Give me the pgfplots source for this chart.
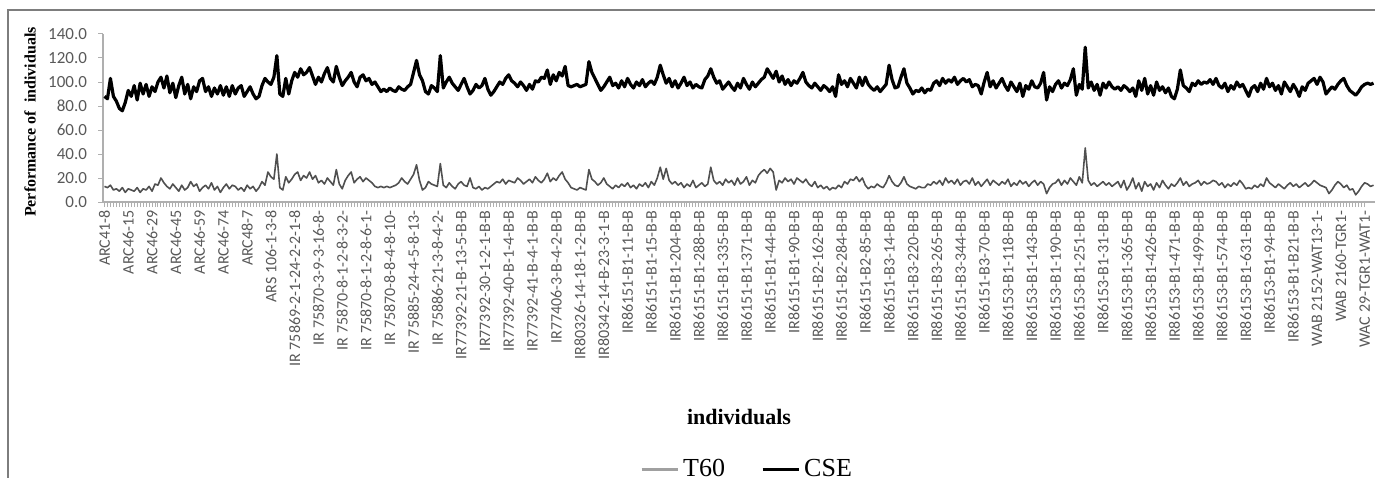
\documentclass[border=0pt]{standalone}
\usepackage{pgfplots}
\pgfplotsset{compat=1.18}
\usepackage{pgfplotstable}
\usepackage{fontspec}
\setmainfont{Liberation Serif}
\newfontfamily\carlito{Carlito}
\definecolor{tickgray}{RGB}{89,89,89}
\definecolor{axgray}{RGB}{175,175,175}
\definecolor{tsixty}{RGB}{80,80,80}
\definecolor{tlegend}{RGB}{160,160,160}
\definecolor{framegray}{RGB}{125,125,125}

\pgfplotstableread[row sep=\\]{
t c\\
13 88\\ 12 86\\ 14 103\\ 10 88\\ 11 84\\ 9 78\\ 12 76\\ 8 83\\ 11 93\\ 10 88\\
9 97\\ 12 85\\ 8 99\\ 11 90\\ 10 98\\ 13 88\\ 9 96\\ 15 92\\ 14 100\\ 20 104\\
16 95\\ 13 105\\ 11 91\\ 15 99\\ 12 87\\ 9 97\\ 14 104\\ 10 90\\ 12 98\\ 17 86\\
13 96\\ 15 92\\ 9 101\\ 12 103\\ 14 92\\ 11 96\\ 16 88\\ 10 95\\ 13 90\\ 8 97\\
12 89\\ 15 96\\ 11 88\\ 14 97\\ 13 90\\ 10 95\\ 12 97\\ 9 88\\ 14 92\\ 11 96\\
13 90\\ 9 86\\ 12 88\\ 17 97\\ 14 103\\ 25 100\\ 21 98\\ 19 104\\ 40 122\\ 12 90\\
10 88\\ 21 103\\ 16 90\\ 19 101\\ 23 108\\ 25 104\\ 18 111\\ 22 106\\ 20 108\\ 25 112\\
19 105\\ 22 98\\ 16 104\\ 18 100\\ 15 107\\ 20 112\\ 17 103\\ 14 100\\ 27 113\\ 15 104\\
11 97\\ 18 101\\ 22 104\\ 25 108\\ 16 100\\ 19 96\\ 21 104\\ 17 106\\ 20 101\\ 18 103\\
16 98\\ 13 100\\ 12 96\\ 13 92\\ 12 94\\ 13 92\\ 12 95\\ 13 93\\ 14 92\\ 16 96\\
20 94\\ 17 93\\ 15 96\\ 19 98\\ 23 108\\ 31 118\\ 18 106\\ 10 101\\ 12 92\\ 17 90\\
15 97\\ 14 95\\ 13 92\\ 32 122\\ 14 95\\ 12 100\\ 16 104\\ 13 99\\ 11 96\\ 15 93\\
17 98\\ 14 103\\ 13 96\\ 20 90\\ 12 93\\ 11 98\\ 13 95\\ 10 97\\ 12 103\\ 11 94\\
13 89\\ 15 92\\ 17 96\\ 16 100\\ 19 98\\ 15 103\\ 18 106\\ 17 101\\ 16 99\\ 20 96\\
18 100\\ 15 97\\ 17 93\\ 19 98\\ 16 94\\ 21 101\\ 18 100\\ 16 104\\ 19 103\\ 24 110\\
17 98\\ 20 106\\ 18 101\\ 22 108\\ 25 105\\ 19 113\\ 16 97\\ 12 96\\ 11 97\\ 10 98\\
12 96\\ 11 97\\ 10 98\\ 27 117\\ 19 108\\ 17 103\\ 14 98\\ 16 93\\ 20 96\\ 15 100\\
13 104\\ 11 97\\ 14 99\\ 12 95\\ 15 101\\ 13 96\\ 16 103\\ 12 98\\ 14 95\\ 11 100\\
15 97\\ 13 102\\ 16 96\\ 12 99\\ 17 101\\ 14 98\\ 20 104\\ 29 114\\ 19 106\\ 28 99\\
18 103\\ 15 96\\ 17 101\\ 14 95\\ 16 99\\ 12 104\\ 15 97\\ 13 100\\ 18 95\\ 12 98\\
14 96\\ 16 95\\ 13 102\\ 15 105\\ 29 111\\ 18 104\\ 15 99\\ 17 101\\ 14 94\\ 19 97\\
16 100\\ 18 96\\ 14 93\\ 20 99\\ 15 95\\ 17 103\\ 21 98\\ 14 94\\ 18 100\\ 16 96\\
22 99\\ 25 102\\ 27 104\\ 24 111\\ 28 107\\ 25 103\\ 10 109\\ 18 100\\ 16 105\\ 20 98\\
17 102\\ 19 97\\ 15 101\\ 20 99\\ 18 103\\ 16 108\\ 19 100\\ 15 97\\ 13 95\\ 17 99\\
12 96\\ 14 93\\ 11 97\\ 13 95\\ 10 92\\ 12 96\\ 11 88\\ 14 106\\ 12 98\\ 17 101\\
15 96\\ 19 103\\ 18 99\\ 21 95\\ 17 104\\ 20 97\\ 14 104\\ 11 98\\ 13 95\\ 12 93\\
15 96\\ 13 92\\ 12 95\\ 16 98\\ 22 114\\ 17 102\\ 14 95\\ 13 96\\ 16 104\\ 21 111\\
15 99\\ 13 95\\ 12 90\\ 11 93\\ 13 92\\ 12 95\\ 12 91\\ 15 94\\ 14 93\\ 17 99\\
15 101\\ 18 97\\ 14 103\\ 20 99\\ 16 102\\ 18 100\\ 15 104\\ 19 98\\ 14 101\\ 17 103\\
18 100\\ 15 102\\ 20 96\\ 14 98\\ 17 97\\ 13 90\\ 16 100\\ 19 108\\ 14 96\\ 18 101\\
16 95\\ 14 99\\ 17 103\\ 15 97\\ 19 93\\ 13 100\\ 16 96\\ 14 92\\ 18 99\\ 15 88\\
17 97\\ 13 94\\ 16 101\\ 18 96\\ 14 95\\ 17 99\\ 15 108\\ 7 85\\ 12 96\\ 15 92\\
16 98\\ 19 101\\ 14 95\\ 18 99\\ 15 97\\ 20 102\\ 17 111\\ 14 89\\ 21 98\\ 16 94\\
45 129\\ 18 95\\ 14 100\\ 16 93\\ 13 98\\ 15 89\\ 17 99\\ 14 95\\ 16 100\\ 13 96\\
15 94\\ 17 96\\ 12 93\\ 18 97\\ 10 95\\ 14 92\\ 20 95\\ 11 88\\ 16 101\\ 9 93\\
17 103\\ 13 90\\ 15 97\\ 10 89\\ 16 100\\ 12 93\\ 18 96\\ 14 91\\ 11 95\\ 15 88\\
13 86\\ 16 94\\ 20 110\\ 14 97\\ 17 95\\ 13 92\\ 15 99\\ 16 97\\ 18 101\\ 14 98\\
17 100\\ 15 99\\ 16 102\\ 18 98\\ 17 103\\ 14 97\\ 16 95\\ 12 99\\ 15 92\\ 13 97\\
16 94\\ 14 100\\ 18 96\\ 15 98\\ 11 93\\ 12 88\\ 11 95\\ 14 97\\ 12 92\\ 15 99\\
13 94\\ 20 103\\ 16 96\\ 14 99\\ 12 93\\ 15 97\\ 13 90\\ 11 100\\ 14 96\\ 16 92\\
13 98\\ 15 94\\ 12 88\\ 14 96\\ 16 93\\ 13 99\\ 15 101\\ 18 103\\ 16 98\\ 14 104\\
13 100\\ 12 90\\ 7 93\\ 10 96\\ 14 94\\ 17 98\\ 15 101\\ 12 103\\ 14 97\\ 10 93\\
11 91\\ 6 89\\ 9 92\\ 13 96\\ 16 98\\ 15 99\\ 13 98\\ 14 99\\
}\perf

\begin{document}
\begin{tikzpicture}
\useasboundingbox (0,0) rectangle (687.5pt,238.5pt);
\clip (0,0) rectangle (687.5pt,238.5pt);
\begin{axis}[
  at={(51.5pt,137.5pt)}, anchor=south west,
  scale only axis, width=636pt, height=84pt,
  xmin=-0.5, xmax=427.5, ymin=0, ymax=140,
  enlargelimits=false,
  axis x line*=bottom, axis y line*=left,
  axis line style={-, axgray, line width=0.8pt},
  every tick/.style={axgray, line width=0.5pt},
  tick align=outside,
  major tick length=2.5pt, minor tick length=2.5pt,
  ytick={0,20,...,140},
  xtick={0,8,...,424},
  minor x tick num=7,
  xticklabels={{ARC41-8},{ARC46-15},{ARC46-29},{ARC46-45},{ARC46-59},{ARC46-74},{ARC48-7},{ARS 106-1-3-8},{IR 75869-2-1-24-2-2-1-8},{IR 75870-3-9-3-16-8-},{IR 75870-8-1-2-8-3-2-},{IR 75870-8-1-2-8-6-1-},{IR 75870-8-8-4-8-10-},{IR 75885-24-4-5-8-13-},{IR 75886-21-3-8-4-2-},{IR77392-21-B-13-5-B-B},{IR77392-30-1-2-1-B-B},{IR77392-40-B-1-4-B-B},{IR77392-41-B-4-1-B-B},{IR77406-3-B-4-2-B-B},{IR80326-14-18-1-2-B-B},{IR80342-14-B-23-3-1-B},{IR86151-B1-11-B-B},{IR86151-B1-15-B-B},{IR86151-B1-204-B-B},{IR86151-B1-288-B-B},{IR86151-B1-335-B-B},{IR86151-B1-371-B-B},{IR86151-B1-44-B-B},{IR86151-B1-90-B-B},{IR86151-B2-162-B-B},{IR86151-B2-284-B-B},{IR86151-B2-85-B-B},{IR86151-B3-14-B-B},{IR86151-B3-220-B-B},{IR86151-B3-265-B-B},{IR86151-B3-344-B-B},{IR86151-B3-70-B-B},{IR86153-B1-118-B-B},{IR86153-B1-143-B-B},{IR86153-B1-190-B-B},{IR86153-B1-251-B-B},{IR86153-B1-31-B-B},{IR86153-B1-365-B-B},{IR86153-B1-426-B-B},{IR86153-B1-471-B-B},{IR86153-B1-499-B-B},{IR86153-B1-574-B-B},{IR86153-B1-631-B-B},{IR86153-B1-94-B-B},{IR86153-B1-B21-B-B},{WAB 2152-WAT13-1-},{WAB 2160-TGR1-},{WAC 29-TGR1-WAT1-}},
  xticklabel style={rotate=90, anchor=east, font=\carlito\fontsize{8}{9}\selectfont, text=tickgray, inner sep=1.5pt},
  yticklabel style={font=\carlito\fontsize{8.5}{9}\selectfont, text=tickgray, xshift=-2pt,
    /pgf/number format/.cd, fixed, fixed zerofill, precision=1, assume math mode=true},
  xlabel={\textbf{individuals}},
  xlabel style={at={(axis description cs:0.5,-1.28)}, anchor=center, font=\fontsize{11}{13}\selectfont},
  ylabel={\textbf{Performance of\ \ individuals}},
  ylabel style={at={(axis description cs:-0.0574,0.476)}, anchor=center, font=\fontsize{8}{10}\selectfont},
  legend style={at={(axis description cs:0.507,-1.59)}, anchor=center, draw=none, fill=none,
    legend columns=2, font=\fontsize{13}{14}\selectfont,
    /tikz/every even column/.append style={column sep=16pt}},
  legend image code/.code={\draw[#1] (0pt,0pt) -- (18pt,0pt);},
]
\addlegendimage{tlegend, line width=1.6pt}
\addlegendentry{T60}
\addlegendimage{black, line width=1.6pt}
\addlegendentry{CSE}
\addplot[tsixty, line width=0.8pt, line join=round, no marks, forget plot] table[x expr=\coordindex, y=t] {\perf};
\addplot[black, line width=1.6pt, line join=round, no marks, forget plot] table[x expr=\coordindex, y=c] {\perf};
\end{axis}
\draw[framegray, line width=1.1pt] (4pt,-5pt) -- (4pt,233.5pt);
\draw[framegray, line width=1.1pt] (3.45pt,233.5pt) -- (700pt,233.5pt);
\end{tikzpicture}
\end{document}
